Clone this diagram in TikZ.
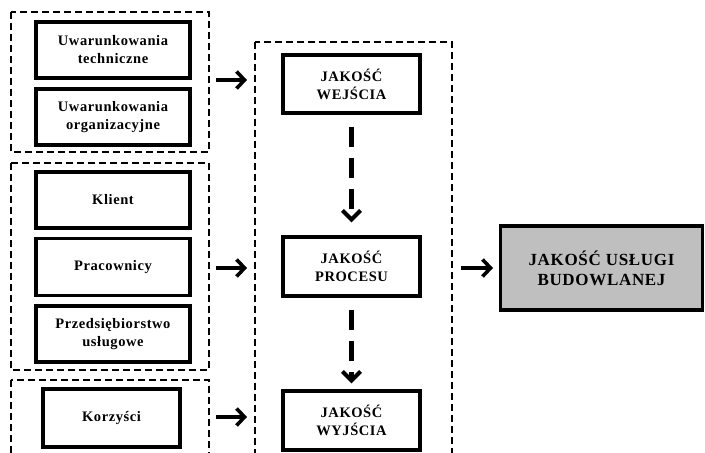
\documentclass[tikz,border=0pt]{standalone}
\usepackage{fontspec}
\setmainfont{Liberation Serif}[LetterSpace=4]
\usetikzlibrary{arrows.meta}
\begin{document}
\begin{tikzpicture}[x=1pt,y=-1pt,
  grp/.style={draw, line width=2.8pt, dash pattern=on 7pt off 4pt},
  box/.style={draw, line width=3.1pt, fill=white, align=center, font=\bfseries\fontsize{14.5}{18}\selectfont, inner sep=0pt},
  arr/.style={line width=3.6pt, -{Straight Barb[length=8pt,width=17pt]}},
  darr/.style={line width=4.2pt, dash pattern=on 20pt off 11pt, -{Straight Barb[length=9pt,width=18pt]}}]
\useasboundingbox (0,0) rectangle (705,453);
\clip (0,0) rectangle (705,453);
% groups
\draw[grp] (11,12) rectangle (209,152);
\draw[grp] (11,163) rectangle (209,370);
\draw[grp] (11,380) rectangle (209,480);
\draw[grp] (255,42) rectangle (452,480);
% left boxes
\node[box, minimum width=154pt, minimum height=56pt] (ut) at (113,50) {Uwarunkowania\\techniczne};
\node[box, minimum width=154pt, minimum height=56pt] (uo) at (113,117) {Uwarunkowania\\organizacyjne};
\node[box, minimum width=154pt, minimum height=56pt] (kl) at (113,200) {Klient};
\node[box, minimum width=154pt, minimum height=57pt] (pr) at (113,267) {Pracownicy};
\node[box, minimum width=154pt, minimum height=56pt] (ps) at (113,334) {Przedsiębiorstwo\\usługowe};
\node[box, minimum width=137pt, minimum height=58pt] (ko) at (111.5,418) {Korzyści};
% center boxes
\node[box, minimum width=137pt, minimum height=58pt] (jw) at (351.5,84) {JAKOŚĆ\\WEJŚCIA};
\node[box, minimum width=137pt, minimum height=59pt] (jp) at (351.5,266.5) {JAKOŚĆ\\PROCESU};
\node[box, minimum width=137pt, minimum height=59pt] (jy) at (351.5,420.5) {JAKOŚĆ\\WYJŚCIA};
% final
\node[box, fill=black!25, minimum width=202pt, minimum height=84pt, font=\bfseries\fontsize{17}{20}\selectfont] (ju) at (601.5,268) {JAKOŚĆ USŁUGI\\BUDOWLANEJ};
% arrows
\coordinate (a1s) at (216,80); \coordinate (a1e) at (247,80);
\coordinate (a2s) at (216,268); \coordinate (a2e) at (247,268);
\coordinate (a3s) at (216,417); \coordinate (a3e) at (247,417);
\coordinate (a4s) at (461,268); \coordinate (a4e) at (493,268);
\draw[arr] (a1s) -- (a1e);
\draw[arr] (a2s) -- (a2e);
\draw[arr] (a3s) -- (a3e);
\draw[arr] (a4s) -- (a4e);
\draw[darr] ([yshift=-12pt]jw.south) -- ([yshift=13pt]jp.north);
\draw[darr] ([yshift=-12pt]jp.south) -- ([yshift=6pt]jy.north);
\end{tikzpicture}
\end{document}
